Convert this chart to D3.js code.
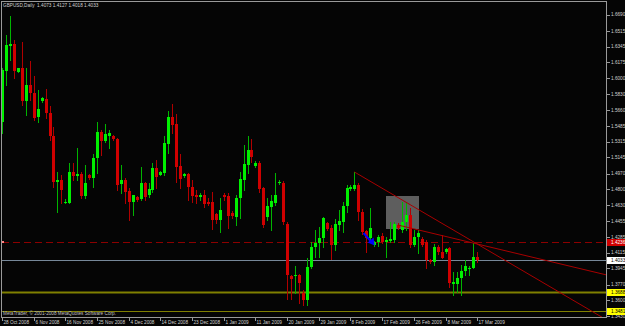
<!DOCTYPE html>
<html lang="en">
<head>
<meta charset="UTF-8" />
<title>GBPUSD Daily</title>
<script src="https://d3js.org/d3.v7.min.js"></script>
<style>
  html, body { margin: 0; padding: 0; background: #050505; }
  svg { display: block; }
  text { font-family: 'Liberation Sans', Arial, sans-serif; }
</style>
</head>
<body>
<svg id="chart"></svg>
<script>
let width = 625
let height = 326

let symbol = 'GBPUSD,Daily'
let copyright = 'MetaTrader, \u00a9 2001-2008 MetaQuotes Software Corp.'

// daily bars, 28 Oct 2008 .. 17 Mar 2009
let open = [
  1.5529, 1.6081, 1.6351, 1.6373, 1.6070, 1.6113, 1.5756, 1.5929, 1.5843, 1.5583,
  1.5756, 1.5778, 1.5626, 1.5377, 1.4880, 1.4901, 1.4652, 1.4652, 1.4988, 1.4945,
  1.4966, 1.4728, 1.4956, 1.4923, 1.5139, 1.5421, 1.5323, 1.5377, 1.5377, 1.5345,
  1.4858, 1.4901, 1.4782, 1.4663, 1.4717, 1.4696, 1.4869, 1.4739, 1.4793, 1.5031,
  1.4956, 1.4977, 1.5291, 1.5583, 1.5507, 1.5053, 1.4945, 1.4966, 1.4826, 1.4739,
  1.4717, 1.4739, 1.4663, 1.4663, 1.4533, 1.4469, 1.4739, 1.4728, 1.4544, 1.4501,
  1.4707, 1.4901, 1.5064, 1.5226, 1.5053, 1.5085, 1.4815, 1.4501, 1.4609, 1.4652,
  1.4869, 1.4869, 1.4425, 1.3863, 1.3863, 1.3874, 1.3679, 1.3603, 1.3960, 1.4176,
  1.4220, 1.4274, 1.4436, 1.4382, 1.4198, 1.4414, 1.4447, 1.4620, 1.4804, 1.4804,
  1.4847, 1.4555, 1.4350, 1.4274, 1.4198, 1.4231, 1.4296, 1.4231, 1.4241, 1.4252,
  1.4414, 1.4360, 1.4447, 1.4523, 1.4198, 1.4285, 1.4263, 1.4231, 1.4036, 1.4014,
  1.4176, 1.4122, 1.4122, 1.4166, 1.3776, 1.3776, 1.3841, 1.3917, 1.3938, 1.3949,
  1.4073
]
let high = [
  1.6113, 1.6470, 1.6676, 1.6416, 1.6113, 1.6395, 1.6113, 1.6189, 1.6027, 1.5875,
  1.5799, 1.5886, 1.5702, 1.5475, 1.4988, 1.4956, 1.4696, 1.5085, 1.5085, 1.5248,
  1.4988, 1.5064, 1.4966, 1.5183, 1.5529, 1.5442, 1.5507, 1.5442, 1.5388, 1.5356,
  1.5064, 1.4923, 1.4815, 1.4739, 1.4728, 1.5042, 1.4880, 1.4869, 1.5085, 1.5118,
  1.4999, 1.5377, 1.5648, 1.5724, 1.5615, 1.5183, 1.4977, 1.4977, 1.4901, 1.4793,
  1.4761, 1.4793, 1.4707, 1.4771, 1.4544, 1.4707, 1.4761, 1.4761, 1.4566, 1.4739,
  1.4988, 1.5280, 1.5377, 1.5345, 1.5107, 1.5107, 1.4826, 1.4707, 1.4739, 1.4977,
  1.4901, 1.4891, 1.4447, 1.3874, 1.3971, 1.3884, 1.3711, 1.4057, 1.4231, 1.4360,
  1.4393, 1.4501, 1.4447, 1.4414, 1.4479, 1.4577, 1.4663, 1.4847, 1.4847, 1.4988,
  1.4869, 1.4587, 1.4360, 1.4598, 1.4241, 1.4306, 1.4328, 1.4285, 1.4447, 1.4447,
  1.4436, 1.4663, 1.4652, 1.4598, 1.4360, 1.4360, 1.4285, 1.4252, 1.4047, 1.4209,
  1.4198, 1.4306, 1.4166, 1.4176, 1.3906, 1.3906, 1.3982, 1.4036, 1.3971, 1.4220,
  1.4127
]
let low = [
  1.5410, 1.5929, 1.6200, 1.6005, 1.6070, 1.5713, 1.5605, 1.5767, 1.5551, 1.5529,
  1.5745, 1.5572, 1.5334, 1.4826, 1.4555, 1.4652, 1.4652, 1.4652, 1.4901, 1.4901,
  1.4707, 1.4707, 1.4912, 1.4826, 1.4977, 1.5172, 1.5313, 1.5248, 1.5334, 1.4793,
  1.4761, 1.4652, 1.4469, 1.4523, 1.4674, 1.4685, 1.4685, 1.4717, 1.4771, 1.4815,
  1.4956, 1.4956, 1.5194, 1.5410, 1.4880, 1.4815, 1.4934, 1.4685, 1.4663, 1.4652,
  1.4685, 1.4609, 1.4631, 1.4371, 1.4436, 1.4339, 1.4685, 1.4382, 1.4490, 1.4414,
  1.4490, 1.4793, 1.4977, 1.5096, 1.5042, 1.4771, 1.4393, 1.4469, 1.4360, 1.4631,
  1.4858, 1.4425, 1.3614, 1.3614, 1.3679, 1.3571, 1.3549, 1.3549, 1.3949, 1.4068,
  1.4068, 1.4176, 1.4360, 1.4047, 1.4144, 1.4360, 1.4339, 1.4555, 1.4793, 1.4793,
  1.4469, 1.4317, 1.4122, 1.4252, 1.4187, 1.4187, 1.4220, 1.4068, 1.4231, 1.4231,
  1.4371, 1.4339, 1.4360, 1.4176, 1.4187, 1.4112, 1.4187, 1.3949, 1.4003, 1.3982,
  1.4101, 1.4057, 1.4112, 1.3744, 1.3657, 1.3689, 1.3657, 1.3874, 1.3874, 1.3949,
  1.4018
]
let close = [
  1.6092, 1.6362, 1.6373, 1.6081, 1.6113, 1.5756, 1.5929, 1.5843, 1.5572, 1.5670,
  1.5789, 1.5626, 1.5377, 1.4880, 1.4901, 1.4793, 1.4663, 1.4988, 1.4945, 1.4966,
  1.4728, 1.4869, 1.4923, 1.5139, 1.5421, 1.5323, 1.5399, 1.5410, 1.5345, 1.4847,
  1.4901, 1.4771, 1.4663, 1.4739, 1.4685, 1.4869, 1.4717, 1.4804, 1.5031, 1.4934,
  1.4988, 1.5302, 1.5583, 1.5497, 1.5042, 1.4912, 1.4966, 1.4826, 1.4728, 1.4717,
  1.4739, 1.4642, 1.4642, 1.4469, 1.4469, 1.4577, 1.4717, 1.4512, 1.4512, 1.4707,
  1.4912, 1.5074, 1.5226, 1.5150, 1.5085, 1.4804, 1.4414, 1.4620, 1.4674, 1.4739,
  1.4880, 1.4447, 1.3874, 1.3830, 1.3874, 1.3787, 1.3603, 1.3960, 1.4176, 1.4220,
  1.4274, 1.4490, 1.4371, 1.4198, 1.4425, 1.4458, 1.4620, 1.4815, 1.4826, 1.4847,
  1.4555, 1.4339, 1.4274, 1.4382, 1.4231, 1.4285, 1.4231, 1.4252, 1.4263, 1.4425,
  1.4382, 1.4447, 1.4523, 1.4198, 1.4285, 1.4328, 1.4198, 1.4036, 1.4014, 1.4176,
  1.4122, 1.4057, 1.4155, 1.3787, 1.3798, 1.3841, 1.3917, 1.3971, 1.3949, 1.4068,
  1.4033
]

let xTickBars = [0, 8, 16, 24, 32, 40, 48, 56, 64, 72, 80, 88, 96, 104, 112, 120]
let xTickLabels = ['28 Oct 2008', '6 Nov 2008', '16 Nov 2008', '25 Nov 2008', '4 Dec 2008',
  '14 Dec 2008', '23 Dec 2008', '1 Jan 2009', '11 Jan 2009', '20 Jan 2009', '29 Jan 2009',
  '8 Feb 2009', '17 Feb 2009', '26 Feb 2009', '8 Mar 2009', '17 Mar 2009']

let yTicks = ['1.6690', '1.6515', '1.6345', '1.6175', '1.6000', '1.5830', '1.5660', '1.5485',
  '1.5315', '1.5145', '1.4970', '1.4800', '1.4630', '1.4455', '1.4285', '1.4115', '1.3945',
  '1.3770', '1.3600', '1.3430']

// price levels drawn on the chart
let alertLevel = 1.4236
let bidLevel = 1.4033
let supportLevels = [1.3688, 1.3481]
let supportWidths = [2, 1]

// trend lines (bar, price) -> (bar, price), extended to the right
let trendFromBar = [89, 100]
let trendFromPrice = [1.4988, 1.4414]
let trendToBar = [120, 120]
let trendToPrice = [1.4209, 1.4209]

// gray rectangle object
let boxBars = [97, 105]
let boxPrices = [1.4728, 1.4371]

// blue arrow object
let arrowBars = [91.3, 93.6]
let arrowPrices = [1.4328, 1.4215]

let plot = { left: 2, right: 607, top: 2, bottom: 317 }

let x = d3.scaleLinear().domain([0, 120]).range([2, 477.2])
let y = d3.scaleLinear().domain([1.3430, 1.6690]).range([316, 14.7])

let svg = d3.select('#chart').attr('width', width).attr('height', height)
  .style('background', '#050505')

svg.append('defs').append('clipPath').attr('id', 'plotclip')
  .append('rect')
  .attr('x', plot.left).attr('y', plot.top)
  .attr('width', plot.right - plot.left).attr('height', plot.bottom - plot.top)

let g = svg.append('g').attr('clip-path', 'url(#plotclip)')

// rectangle object (behind bars)
g.append('rect')
  .attr('x', Math.round(x(boxBars[0])))
  .attr('y', Math.round(y(boxPrices[0])))
  .attr('width', Math.round(x(boxBars[1]) - x(boxBars[0])) + 1)
  .attr('height', Math.round(y(boxPrices[1]) - y(boxPrices[0])))
  .attr('fill', '#5e5e5e')

// horizontal levels
g.append('line')
  .attr('x1', plot.left).attr('x2', plot.right)
  .attr('y1', Math.round(y(alertLevel)) + 0.5).attr('y2', Math.round(y(alertLevel)) + 0.5)
  .attr('stroke', '#8c0000').attr('stroke-dasharray', '7 4')
g.append('rect')
  .attr('x', plot.left).attr('y', Math.round(y(alertLevel)) - 1)
  .attr('width', 2).attr('height', 2).attr('fill', '#ff8080')

g.append('line')
  .attr('x1', plot.left).attr('x2', plot.right)
  .attr('y1', Math.round(y(bidLevel)) + 0.5).attr('y2', Math.round(y(bidLevel)) + 0.5)
  .attr('stroke', '#778899')

g.selectAll('line.support')
  .data(supportLevels)
  .enter()
  .append('line')
  .attr('class', 'support')
  .attr('x1', plot.left).attr('x2', plot.right)
  .attr('y1', d => Math.round(y(d)) + 0.5).attr('y2', d => Math.round(y(d)) + 0.5)
  .attr('stroke', '#808000')
  .attr('stroke-width', (d, i) => supportWidths[i])

// candles
let bars = d3.range(open.length).map(i => ({
  i: i, o: open[i], h: high[i], l: low[i], c: close[i]
}))

let bull = '#00f000', bullWick = '#00b400'
let bear = '#d00000', bearWick = '#b00000'

let cg = g.append('g')
cg.selectAll('line.wick')
  .data(bars)
  .enter()
  .append('line')
  .attr('class', 'wick')
  .attr('x1', d => Math.round(x(d.i)) + 0.5)
  .attr('x2', d => Math.round(x(d.i)) + 0.5)
  .attr('y1', d => Math.round(y(d.h)))
  .attr('y2', d => Math.round(y(d.l)) + 1)
  .attr('stroke', d => d.c >= d.o ? bullWick : bearWick)

cg.selectAll('rect.body')
  .data(bars)
  .enter()
  .append('rect')
  .attr('class', 'body')
  .attr('x', d => Math.round(x(d.i)) - 1)
  .attr('width', 3)
  .attr('y', d => Math.round(y(Math.max(d.o, d.c))))
  .attr('height', d => Math.max(1, Math.round(y(Math.min(d.o, d.c))) - Math.round(y(Math.max(d.o, d.c)))))
  .attr('fill', d => d.c >= d.o ? bull : bear)

// trend lines
let xEnd = x.invert(plot.right + 5)
trendFromBar.forEach((b, k) => {
  let slope = (trendToPrice[k] - trendFromPrice[k]) / (trendToBar[k] - b)
  g.append('line')
    .attr('x1', x(b)).attr('y1', y(trendFromPrice[k]))
    .attr('x2', x(xEnd)).attr('y2', y(trendFromPrice[k] + slope * (xEnd - b)))
    .attr('stroke', '#a80000').attr('stroke-width', 1)
})

// arrow object
let ax1 = x(arrowBars[0]), ay1 = y(arrowPrices[0])
let ax2 = x(arrowBars[1]), ay2 = y(arrowPrices[1])
g.append('line')
  .attr('x1', ax1).attr('y1', ay1).attr('x2', ax2).attr('y2', ay2)
  .attr('stroke', '#0000ff').attr('stroke-width', 2)
g.append('path')
  .attr('d', `M${ax2 + 2},${ay2 + 2} L${ax2 - 5},${ay2 - 1} L${ax2 + 1},${ay2 - 6} Z`)
  .attr('fill', '#0000ff')

// frame
let frameColor = '#9a9a9a'
svg.append('line').attr('x1', 1).attr('x2', plot.right).attr('y1', 1.5).attr('y2', 1.5).attr('stroke', frameColor)
svg.append('line').attr('x1', 1.5).attr('x2', 1.5).attr('y1', 1).attr('y2', plot.bottom + 1).attr('stroke', frameColor)
svg.append('line').attr('x1', plot.right - 0.5).attr('x2', plot.right - 0.5).attr('y1', 1).attr('y2', plot.bottom + 1).attr('stroke', frameColor)
svg.append('line').attr('x1', 1).attr('x2', plot.right).attr('y1', plot.bottom + 0.5).attr('y2', plot.bottom + 0.5).attr('stroke', frameColor)

let fontSize = 4.7
let textColor = '#d0d0d0'

// price axis
let yAxis = svg.append('g')
yAxis.selectAll('line')
  .data(yTicks)
  .enter()
  .append('line')
  .attr('x1', plot.right).attr('x2', plot.right + 3)
  .attr('y1', d => Math.round(y(+d)) + 0.5).attr('y2', d => Math.round(y(+d)) + 0.5)
  .attr('stroke', frameColor)
yAxis.selectAll('text')
  .data(yTicks)
  .enter()
  .append('text')
  .attr('x', plot.right + 4)
  .attr('y', d => y(+d) + 1.7)
  .attr('font-size', fontSize)
  .attr('fill', textColor)
  .text(d => d)

// price label boxes
let tags = [
  { v: alertLevel, bg: '#d00000', fg: '#ffffff' },
  { v: bidLevel, bg: '#ffffff', fg: '#000000' },
  { v: supportLevels[0], bg: '#ffff00', fg: '#000000' },
  { v: supportLevels[1], bg: '#ffff00', fg: '#000000' }
]
let tagG = svg.append('g')
tagG.selectAll('rect')
  .data(tags)
  .enter()
  .append('rect')
  .attr('x', plot.right).attr('width', width - plot.right)
  .attr('y', d => Math.round(y(d.v)) - 3).attr('height', 7)
  .attr('fill', d => d.bg)
tagG.selectAll('text')
  .data(tags)
  .enter()
  .append('text')
  .attr('x', plot.right + 4)
  .attr('y', d => Math.round(y(d.v)) + 2.3)
  .attr('font-size', fontSize)
  .attr('fill', d => d.fg)
  .text(d => d.v.toFixed(4))

// time axis
let xAxis = svg.append('g')
xAxis.selectAll('line')
  .data(xTickBars)
  .enter()
  .append('line')
  .attr('x1', d => Math.round(x(d)) + 0.5).attr('x2', d => Math.round(x(d)) + 0.5)
  .attr('y1', plot.bottom).attr('y2', plot.bottom + 4)
  .attr('stroke', frameColor)
xAxis.selectAll('text')
  .data(xTickBars)
  .enter()
  .append('text')
  .attr('x', d => Math.round(x(d)) + 1.5)
  .attr('y', plot.bottom + 7.3)
  .attr('font-size', fontSize)
  .attr('fill', textColor)
  .text((d, i) => xTickLabels[i])

// header and footer text
let last = open.length - 1
svg.append('text')
  .attr('x', 3).attr('y', 7)
  .attr('font-size', fontSize)
  .attr('fill', textColor)
  .attr('xml:space', 'preserve')
  .text(`${symbol}  ${open[last].toFixed(4)} ${high[last].toFixed(4)} ${low[last].toFixed(4)} ${close[last].toFixed(4)}`)

svg.append('text')
  .attr('x', 3).attr('y', plot.bottom - 2.3)
  .attr('font-size', fontSize)
  .attr('fill', '#c0c0c0')
  .text(copyright)
</script>
</body>
</html>
